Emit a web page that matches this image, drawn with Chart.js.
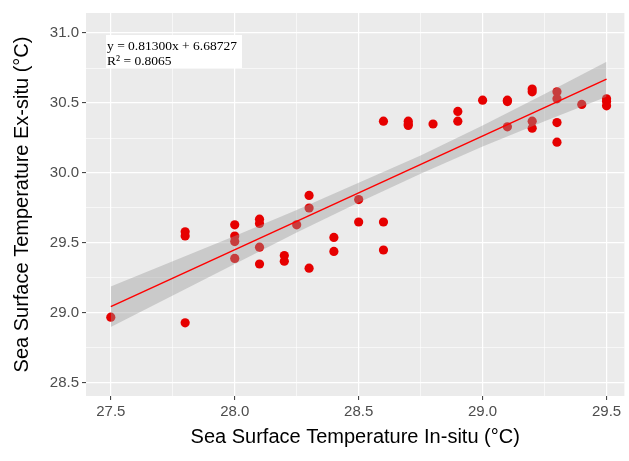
<!DOCTYPE html>
<html>
<head>
<meta charset="utf-8">
<script src="https://cdn.jsdelivr.net/npm/chart.js@4/dist/chart.umd.min.js"></script>
<style>
  body { margin: 0; background: #fff; }
  #wrap { width: 629px; height: 461px; }
</style>
</head>
<body>
<div id="wrap"><canvas id="sst"></canvas></div>
<script>
// in-situ vs ex-situ readings
const inSitu = [27.5, 27.8, 27.8, 27.8, 28.0, 28.0, 28.0, 28.0, 28.1, 28.1, 28.1, 28.1,
  28.2, 28.2, 28.25, 28.3, 28.3, 28.3, 28.4, 28.4, 28.5, 28.5, 28.6, 28.6, 28.6,
  28.7, 28.7, 28.7, 28.8, 28.9, 28.9, 29.0, 29.1, 29.1, 29.1, 29.2, 29.2, 29.2, 29.2,
  29.3, 29.3, 29.3, 29.3, 29.4, 29.5, 29.5, 29.5];
const exSitu = [28.97, 29.58, 29.55, 28.93, 29.63, 29.55, 29.51, 29.39, 29.67, 29.64, 29.47, 29.35,
  29.41, 29.37, 29.63, 29.84, 29.75, 29.32, 29.54, 29.44, 29.81, 29.65, 30.37, 29.65, 29.45,
  30.37, 30.35, 30.34, 30.35, 30.44, 30.37, 30.52, 30.52, 30.51, 30.33, 30.60, 30.58, 30.37, 30.32,
  30.58, 30.53, 30.36, 30.22, 30.49, 30.53, 30.51, 30.48];

// fitted line end points (y = 0.813x + 6.68727)
const fitX = [27.5, 29.5];
const fitY = [29.045, 30.671];

// confidence band, read at a few x positions
const bandX = [27.5, 27.75, 28.0, 28.25, 28.5, 28.75, 29.0, 29.25, 29.5];
const bandHi = [29.19, 29.37, 29.55, 29.735, 29.93, 30.125, 30.34, 30.565, 30.795];
const bandLo = [28.90, 29.125, 29.35, 29.575, 29.79, 29.995, 30.19, 30.37, 30.545];

const xTicks = [27.5, 27.75, 28.0, 28.25, 28.5, 28.75, 29.0, 29.25, 29.5];
const yTicks = [28.5, 28.75, 29.0, 29.25, 29.5, 29.75, 30.0, 30.25, 30.5, 30.75, 31.0];

const eqLines = ["y = 0.81300x + 6.68727", "R\u00B2 = 0.8065"];

function pairs(xs, ys) {
  return xs.map((x, i) => ({ x: x, y: ys[i] }));
}
function isMajor(v) {
  return Math.abs(v * 2 - Math.round(v * 2)) < 1e-6;
}

const panelBg = {
  id: "panelBg",
  beforeDraw(chart) {
    const { ctx, chartArea: a } = chart;
    ctx.save();
    ctx.fillStyle = "#EBEBEB";
    ctx.fillRect(a.left, a.top, a.right - a.left, a.bottom - a.top);
    ctx.restore();
  }
};

const eqBox = {
  id: "eqBox",
  afterDraw(chart) {
    const { ctx, chartArea: a } = chart;
    const bx = a.left + 20, by = a.top + 22;
    ctx.save();
    ctx.fillStyle = "#fff";
    ctx.fillRect(bx, by, 136, 33);
    ctx.fillStyle = "#000";
    ctx.font = "13.5px 'Liberation Serif', 'Times New Roman', serif";
    ctx.textBaseline = "alphabetic";
    ctx.fillText(eqLines[0], bx + 1, by + 15);
    ctx.fillText(eqLines[1], bx + 1, by + 30);
    ctx.restore();
  }
};

function axis(ticks, extra) {
  return Object.assign({
    type: "linear",
    afterBuildTicks: s => { s.ticks = ticks.map(v => ({ value: v })); },
    border: { display: false },
    grid: {
      color: "#FFFFFF",
      lineWidth: c => (c.tick && isMajor(c.tick.value)) ? 1.2 : 0.6,
      tickColor: c => (c.tick && isMajor(c.tick.value)) ? "#333333" : "rgba(0,0,0,0)",
      tickLength: 4,
      tickWidth: 1
    },
    ticks: {
      color: "#4D4D4D",
      font: { family: "'Liberation Sans', Arial, sans-serif", size: 15 },
      callback: v => isMajor(v) ? v.toFixed(1) : ""
    }
  }, extra);
}

const ctx = document.getElementById("sst").getContext("2d");
new Chart(ctx, {
  type: "scatter",
  data: {
    datasets: [
      {
        label: "fit",
        data: pairs(fitX, fitY),
        showLine: true,
        borderColor: "#FF0000",
        borderWidth: 1.5,
        pointRadius: 0,
        fill: false,
        order: 1
      },
      {
        label: "upper",
        data: pairs(bandX, bandHi),
        showLine: true,
        borderColor: "rgba(0,0,0,0)",
        backgroundColor: "rgba(153,153,153,0.4)",
        pointRadius: 0,
        fill: "+1",
        order: 2
      },
      {
        label: "lower",
        data: pairs(bandX, bandLo),
        showLine: true,
        borderColor: "rgba(0,0,0,0)",
        pointRadius: 0,
        fill: false,
        order: 3
      },
      {
        label: "obs",
        data: pairs(inSitu, exSitu),
        pointRadius: 4.6,
        pointBackgroundColor: "#E60000",
        pointBorderWidth: 0,
        pointBorderColor: "rgba(0,0,0,0)",
        order: 4
      }
    ]
  },
  options: {
    responsive: true,
    maintainAspectRatio: false,
    animation: false,
    layout: { padding: { top: 13, left: 0, right: 0, bottom: 0 } },
    plugins: { legend: { display: false }, tooltip: { enabled: false } },
    scales: {
      x: axis(xTicks, {
        min: 27.4,
        max: 29.572,
        afterFit: s => { s.height = 65; },
        title: {
          display: true,
          text: "Sea Surface Temperature In-situ (\u00B0C)",
          color: "#000",
          font: { family: "'Liberation Sans', Arial, sans-serif", size: 20 },
          padding: { top: 0, bottom: 12 }
        }
      }),
      y: axis(yTicks, {
        min: 28.407,
        max: 31.143,
        afterFit: s => { s.width = 86; },
        title: {
          display: true,
          text: "Sea Surface Temperature Ex-situ (\u00B0C)",
          color: "#000",
          font: { family: "'Liberation Sans', Arial, sans-serif", size: 20 },
          padding: { top: 10, bottom: 0 }
        }
      })
    }
  },
  plugins: [panelBg, eqBox]
});
</script>
</body>
</html>
